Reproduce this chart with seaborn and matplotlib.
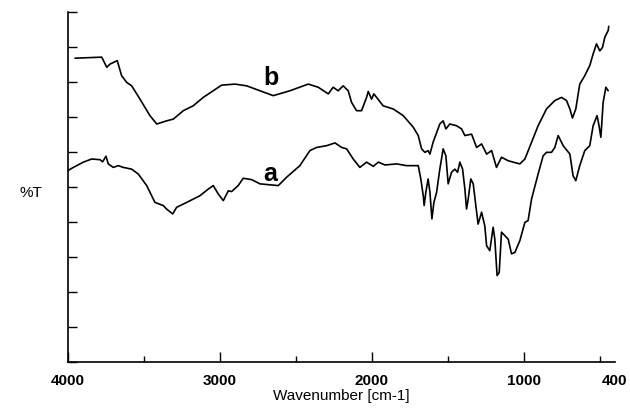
import matplotlib
matplotlib.use("Agg")
import matplotlib.pyplot as plt
import pandas as pd
import seaborn as sns

# 光谱 b（上方曲线）：波数 / 透过率
wn_b = [3954, 3778, 3745, 3724, 3676, 3647, 3614, 3581, 3526, 3461, 3416, 3351,
        3307, 3241, 3176, 3110, 3044, 2989, 2901, 2824, 2737, 2649, 2539, 2419,
        2353, 2287, 2255, 2222, 2189, 2156, 2134, 2101, 2068, 2035, 2024, 2002,
        1987, 1926, 1860, 1794, 1728, 1695, 1673, 1651, 1630, 1618, 1597, 1553,
        1531, 1513, 1487, 1443, 1410, 1388, 1344, 1311, 1278, 1245, 1212, 1180,
        1147, 1103, 1070, 1026, 993, 949, 906, 851, 796, 752, 719, 697, 680, 658,
        632, 599, 566, 544, 522, 500, 482, 467, 445, 441]
t_b = [86.8, 87.1, 84.2, 85.1, 86.1, 81.8, 79.9, 78.9, 75.1, 70.4, 68.0, 68.9,
       69.4, 71.8, 73.2, 75.6, 77.5, 79.1, 79.4, 78.9, 77.5, 76.1, 77.5, 79.4,
       78.5, 76.6, 78.5, 77.5, 78.9, 77.5, 74.2, 71.8, 71.8, 75.6, 77.3, 75.1,
       76.6, 73.2, 72.3, 70.4, 67.1, 64.7, 60.9, 59.9, 60.4, 59.4, 62.8, 68.0,
       68.9, 66.6, 68.0, 67.5, 66.6, 64.7, 65.1, 61.3, 62.3, 59.4, 60.4, 55.6,
       58.5, 57.5, 57.1, 56.6, 58.0, 62.8, 67.5, 72.3, 74.7, 75.6, 74.7, 72.3,
       69.7, 72.3, 79.4, 81.8, 84.7, 88.0, 90.9, 88.9, 89.9, 92.8, 94.7, 95.9]

# 光谱 a（下方曲线）
wn_a = [4000, 3965, 3899, 3844, 3789, 3772, 3750, 3735, 3702, 3669, 3636, 3581,
        3537, 3482, 3428, 3373, 3351, 3311, 3285, 3219, 3132, 3077, 3044, 3011,
        2978, 2945, 2923, 2880, 2847, 2791, 2737, 2616, 2561, 2474, 2408, 2364,
        2298, 2243, 2199, 2166, 2123, 2079, 2035, 1991, 1958, 1914, 1837, 1772,
        1695, 1678, 1662, 1656, 1645, 1630, 1618, 1605, 1592, 1574, 1553, 1531,
        1513, 1498, 1476, 1454, 1436, 1421, 1403, 1388, 1377, 1366, 1349, 1333,
        1316, 1301, 1278, 1257, 1245, 1224, 1202, 1191, 1176, 1162, 1147, 1125,
        1103, 1081, 1059, 1026, 993, 972, 949, 906, 873, 851, 818, 796, 774, 741,
        697, 676, 658, 632, 599, 566, 544, 518, 505, 493, 478, 460, 445]
t_a = [54.7, 55.6, 57.1, 58.0, 57.8, 57.2, 58.8, 56.6, 55.6, 56.1, 55.6, 55.1,
       53.7, 50.4, 45.6, 44.7, 43.7, 42.3, 44.2, 45.6, 47.5, 49.4, 50.4, 48.0,
       46.1, 48.9, 48.7, 50.4, 52.5, 52.1, 50.9, 50.4, 52.8, 56.1, 60.4, 61.3,
       61.8, 62.6, 61.3, 60.9, 58.0, 55.6, 57.1, 55.9, 57.1, 56.3, 56.6, 56.1,
       56.1, 52.3, 47.5, 44.7, 48.5, 52.3, 48.5, 40.9, 45.6, 48.5, 55.1, 60.9,
       58.9, 50.9, 54.2, 55.1, 54.2, 57.1, 55.1, 49.4, 43.7, 46.6, 52.3, 50.9,
       44.7, 39.4, 42.8, 38.9, 33.2, 31.8, 38.5, 35.1, 24.7, 25.6, 37.1, 36.1,
       35.1, 30.9, 31.3, 34.7, 39.9, 40.4, 46.6, 53.7, 58.9, 59.9, 59.9, 61.3,
       64.7, 61.8, 59.4, 53.2, 51.8, 56.1, 60.4, 61.8, 67.5, 70.4, 67.5, 64.2,
       74.2, 78.5, 77.5]

# 曲线标注
labels = ["b", "a"]
label_wn = [2664, 2671]
label_t = [81.4, 53.9]

x_major = [4000, 3000, 2000, 1000, 400]
x_minor = [3500, 2500, 1500, 500]

sns.set_style("white")
plt.rcParams['font.family'] = ['Liberation Sans', 'DejaVu Sans']
plt.rcParams['text.color'] = 'black'
plt.rcParams['axes.labelcolor'] = 'black'

df_a = pd.DataFrame({'wn': wn_a, 't': t_a})
df_b = pd.DataFrame({'wn': wn_b, 't': t_b})

fig = plt.figure(figsize=(6.3, 4.1), dpi=100)
ax = fig.add_axes([68 / 630, 1 - 363 / 410, (615 - 68) / 630, 350 / 410])

sns.lineplot(data=df_b, x='wn', y='t', color='black', lw=1.2, ax=ax)
sns.lineplot(data=df_a, x='wn', y='t', color='black', lw=1.2, ax=ax)

# 粗体标注 a / b
for s, xx, yy in zip(labels, label_wn, label_t):
    ax.text(xx, yy, s, fontsize=18, fontweight='bold', ha='center', va='center', color='black')

ax.set_xlim(4000, 400)
ax.set_ylim(0, 100)

ax.set_xticks(x_major)
ax.set_xticklabels([str(v) for v in x_major], fontsize=11, fontweight='bold')
ax.set_xticks(x_minor, minor=True)
ax.set_yticks(range(0, 101, 10))
ax.set_yticklabels([])
ax.tick_params(axis='x', which='major', direction='in', length=7, width=1, pad=8, colors='black')
ax.tick_params(axis='x', which='minor', direction='in', length=4, width=1, colors='black')
ax.tick_params(axis='y', which='major', direction='in', length=6.5, width=1, colors='black', left=True)
ax.tick_params(axis='x', bottom=True, which='both')
ax.xaxis.get_major_ticks()[-1].tick1line.set_visible(False)

for side in ['top', 'right']:
    ax.spines[side].set_visible(False)
for side in ['left', 'bottom']:
    ax.spines[side].set_color('black')
    ax.spines[side].set_linewidth(1.2)

ax.set_xlabel('Wavenumber [cm-1]', fontsize=11, labelpad=1, color='black')
ax.set_ylabel('%T', fontsize=11, rotation=0, color='black')
ax.yaxis.set_label_coords(-0.068, 0.466)

fig.savefig('out.png', dpi=100)
